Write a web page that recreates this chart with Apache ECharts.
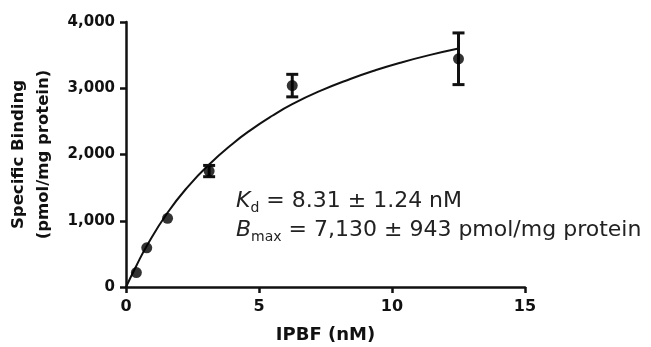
<!DOCTYPE html>
<html>
<head>
<meta charset="utf-8">
<script src="https://cdn.jsdelivr.net/npm/echarts@6/dist/echarts.min.js"></script>
<style>html,body{margin:0;padding:0;background:#fff}#c{width:651px;height:347px}</style>
</head>
<body>
<div id="c"></div>
<script>
// Data
var concX = [0.39, 0.78, 1.5625, 3.125, 6.25, 12.5];
var bindMean = [218, 591, 1036, 1750, 3040, 3445];
var bindErr = [0, 0, 0, 85, 170, 390];
var fitX = [0, 0.39, 0.78, 1.56, 2.34, 3.125, 4.0, 4.67, 5.5, 6.25, 7.3, 8.43, 9.4, 10.31, 11.4, 12.5];
var fitY = [0, 320, 620, 1120, 1520, 1850, 2160, 2365, 2585, 2760, 2960, 3140, 3275, 3385, 3500, 3600];
var xTicks = [0, 5, 10, 15];
var yTicks = [0, 1000, 2000, 3000, 4000];

var pts = concX.map(function (x, i) { return [x, bindMean[i]]; });
var errs = concX.map(function (x, i) { return [x, bindMean[i] - bindErr[i], bindMean[i] + bindErr[i]]; });
var fit = fitX.map(function (x, i) { return [x, fitY[i]]; });

var F = 'DejaVu Sans';
var chart = echarts.init(document.getElementById('c'));
chart.setOption({
  animation: false,
  grid: { left: 126, right: 126, top: 22, bottom: 60, containLabel: false, outerBoundsMode: 'none' },
  xAxis: {
    type: 'value', min: xTicks[0], max: xTicks[xTicks.length - 1], interval: 5,
    name: 'IPBF (nM)', nameLocation: 'middle', nameGap: 39,
    nameTextStyle: { fontFamily: F, fontWeight: 'bold', fontSize: 18, color: '#111' },
    axisLine: { lineStyle: { color: '#111', width: 2.5 } },
    axisTick: { length: 6, lineStyle: { color: '#111', width: 2.5 } },
    axisLabel: { fontFamily: F, fontWeight: 'bold', fontSize: 16, color: '#111', margin: 12 },
    splitLine: { show: false }
  },
  yAxis: {
    type: 'value', min: yTicks[0], max: yTicks[yTicks.length - 1], interval: 1000,
    name: 'Specific Binding\n(pmol/mg protein)', nameLocation: 'middle', nameGap: 65,
    nameTextStyle: { fontFamily: F, fontWeight: 'bold', fontSize: 16.5, color: '#111', lineHeight: 25 },
    axisLine: { show: true, lineStyle: { color: '#111', width: 2.5 } },
    axisTick: { show: true, length: 6, lineStyle: { color: '#111', width: 2.5 } },
    axisLabel: {
      fontFamily: F, fontWeight: 'bold', fontSize: 15, color: '#111', margin: 11,
      formatter: function (v) { return v.toString().replace(/\B(?=(\d{3})+(?!\d))/g, ','); }
    },
    splitLine: { show: false }
  },
  graphic: [{
    type: 'text', left: 236, top: 190,
    style: {
      text: '{k|K}{s|d}{t| = 8.31 ± 1.24 nM}',
      rich: {
        k: { fontFamily: F, fontStyle: 'italic', fontSize: 22, fill: '#222', lineHeight: 28, verticalAlign: 'middle' },
        s: { fontFamily: F, fontSize: 14, fill: '#222', lineHeight: 28, verticalAlign: 'bottom' },
        t: { fontFamily: F, fontSize: 22, fill: '#222', lineHeight: 28, verticalAlign: 'middle' }
      }
    }
  }, {
    type: 'text', left: 236, top: 219,
    style: {
      text: '{k|B}{s|max}{t| = 7,130 ± 943 pmol/mg protein}',
      rich: {
        k: { fontFamily: F, fontStyle: 'italic', fontSize: 22, fill: '#222', lineHeight: 28, verticalAlign: 'middle' },
        s: { fontFamily: F, fontSize: 14, fill: '#222', lineHeight: 28, verticalAlign: 'bottom' },
        t: { fontFamily: F, fontSize: 22, fill: '#222', lineHeight: 28, verticalAlign: 'middle' }
      }
    }
  }],
  series: [{
    type: 'line', data: fit, smooth: true, symbol: 'none',
    lineStyle: { color: '#111', width: 2 }, z: 2
  }, {
    type: 'custom', data: errs, z: 3,
    renderItem: function (params, api) {
      var x = api.value(0);
      var lo = api.coord([x, api.value(1)]);
      var hi = api.coord([x, api.value(2)]);
      if (Math.abs(hi[1] - lo[1]) < 1) return null;
      var w = 6;
      var st = { stroke: '#111', lineWidth: 3 };
      return { type: 'group', children: [
        { type: 'line', shape: { x1: lo[0], y1: lo[1], x2: hi[0], y2: hi[1] }, style: st },
        { type: 'line', shape: { x1: lo[0] - w, y1: lo[1], x2: lo[0] + w, y2: lo[1] }, style: st },
        { type: 'line', shape: { x1: hi[0] - w, y1: hi[1], x2: hi[0] + w, y2: hi[1] }, style: st }
      ] };
    }
  }, {
    type: 'scatter', data: pts, symbol: 'circle', symbolSize: 11, z: 4,
    itemStyle: { color: '#000' }
  }]
});
</script>
</body>
</html>
